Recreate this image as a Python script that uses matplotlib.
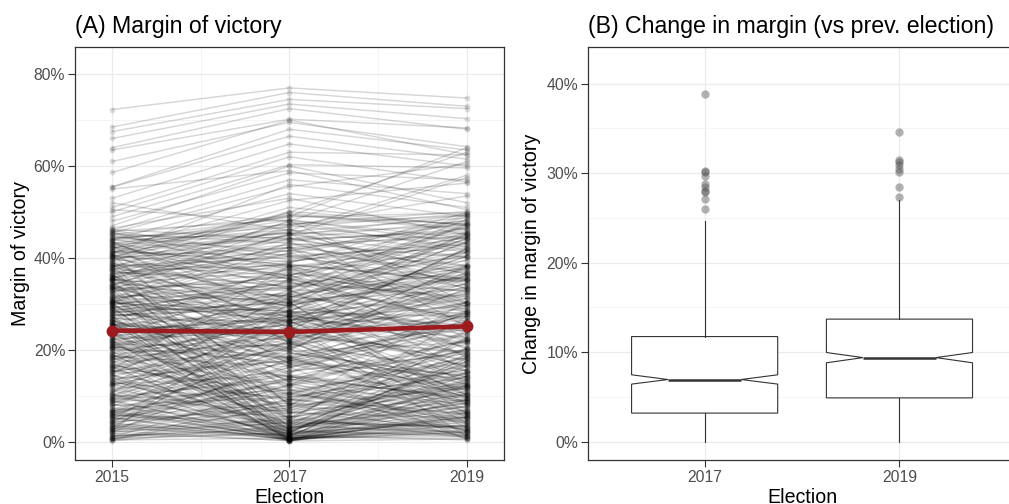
import numpy as np
import matplotlib
matplotlib.use("Agg")
import matplotlib.pyplot as plt
from matplotlib.ticker import FixedLocator, FuncFormatter

plt.rcParams['font.family'] = ['Liberation Sans', 'DejaVu Sans']

# ---------------- data ----------------
years = [2015, 2017, 2019]

# per-constituency margins (%) in 2015, 2017, 2019
m2015 = [
    72.3, 68.5, 67.5, 66.0, 64.0, 63.5, 61.0, 58.6, 55.5, 55.4, 53.0, 51.0, 50.0, 49.0, 48.0,
    47.0, 46.0, 45.5, 44.0, 42.0, 40.0, 50.5, 52.0, 38.0, 36.0, 43.0, 55.0, 46.5, 34.0, 41.0,
    5.2, 12.1, 18.4, 25.3, 9.1, 15.6, 22.0, 30.2, 7.3, 14.5,
    20.3, 28.4, 11.2, 35.1, 17.3, 24.4, 3.2, 13.3, 26.1, 19.5,
    8.2, 32.3, 16.4, 21.6, 10.4, 27.2, 6.1, 23.7, 31.5, 14.0,
    1.0, 2.1, 0.5, 4.3, 6.2, 3.1, 1.6, 8.4, 2.5, 5.1,
    0.8, 3.6, 1.2, 7.0, 0.3, 4.8, 2.8, 9.6, 0.6, 6.7,
    30.1, 38.2, 42.3, 25.4, 33.3, 36.6, 40.5, 28.1, 22.3, 44.2,
    19.2, 34.5, 27.6, 41.3, 37.2, 31.4, 45.1, 24.3, 29.5, 39.3,
    40.2, 35.3, 43.1, 29.3, 38.4, 32.2, 45.5, 26.4, 41.6, 36.1,
    28.3, 33.2, 20.4, 25.1, 15.2, 30.5, 18.3, 35.4, 12.5, 22.6,
    44.1, 39.2, 46.0, 35.5, 42.4, 30.6, 37.3, 25.2, 43.5, 33.4,
    10.3, 15.1, 5.4, 20.2, 8.6, 12.4, 18.5, 3.3, 22.5, 14.2,
    2.2, 4.4, 6.3, 1.4, 8.1, 3.5, 10.2, 5.5, 7.4, 0.9,
    12.3, 16.2, 9.5, 14.4, 18.1, 11.5, 20.6, 13.6, 17.4, 15.5,
    22.1, 26.3, 24.2, 28.5, 21.4, 30.3, 27.1, 23.5, 32.4, 29.2,
    40.1, 41.5, 43.3, 44.6, 45.3, 42.1, 46.2, 40.6, 43.8, 45.8,
    38.3, 33.1, 29.4, 36.5, 27.3, 24.1, 31.2, 34.6, 19.1, 26.6,
    15.3, 22.2, 18.6, 28.2, 12.6, 25.5, 9.3, 20.1, 30.4, 16.5,
    30.2, 25.3, 35.2, 20.4, 28.6, 33.5, 22.4, 38.5, 18.2, 27.4,
    35.6, 38.1, 32.5, 40.3, 37.4, 30.3, 42.5, 34.2, 39.4, 36.3,
    11.1, 6.5, 23.3, 17.6, 13.2, 21.3, 9.2, 4.6, 26.5, 31.6,
    0.4, 1.8, 2.9, 4.1, 0.2, 3.8, 6.9, 1.1, 5.8, 2.4,
    19.8, 24.8, 29.8, 34.8, 39.8, 14.8, 9.8, 44.8, 17.8, 12.8,
    15.9, 10.9, 30.9, 26.9, 40.9, 20.9, 35.9, 25.9, 5.9, 43.9,
    33.7, 37.7, 29.7, 27.7, 31.7, 35.7, 24.7, 21.7, 16.7, 13.7,
    8.5, 13.5, 18.7, 23.4, 27.9, 32.6, 37.1, 41.8, 4.2, 6.8,
    11.4, 16.9, 21.1, 25.7, 29.6, 34.1, 38.9, 43.2, 45.7, 19.6,
    2.7, 5.6, 9.9, 14.9, 7.7, 12.9, 17.1, 3.9, 10.6, 15.8,
    24.9, 30.7, 36.2, 40.8, 33.9, 28.8, 22.7, 38.6, 42.7, 35.8,
    26.2, 31.1, 35.2, 20.8, 16.3, 39.6, 29.1, 24.6, 33.6, 19.4,
    44.9, 41.2, 38.7, 36.8, 34.3, 31.9, 28.9, 26.8, 23.9, 21.2,
    1.3, 2.6, 3.4, 4.9, 0.7, 5.9, 7.9, 9.4, 1.9, 6.4,
    17.9, 20.7, 23.1, 25.9, 28.1, 30.8, 33.1, 35.4, 37.9, 40.4,
    43.6, 39.1, 34.4, 29.9, 25.6, 21.9, 18.9, 14.6, 10.1, 6.6,
    12.2, 16.6, 21.5, 26.4, 31.3, 36.4, 41.1, 8.9, 4.5, 2.3,
    44.3, 42.9, 41.9, 39.9, 37.6, 35.1, 32.9, 30.6, 27.4, 23.8,
    5.3, 8.8, 12.7, 16.1, 20.9, 25.8, 29.2, 33.7, 37.4, 40.7,
]
m2017 = [
    77.0, 76.0, 74.5, 73.5, 72.5, 70.2, 69.5, 70.0, 68.0, 66.5, 64.8, 63.0, 62.0, 60.3, 58.5,
    60.0, 57.0, 55.5, 54.0, 52.5, 51.0, 48.0, 46.0, 50.0, 45.0, 49.0, 59.0, 53.0, 47.0, 56.0,
    0.4, 1.0, 0.8, 1.6, 0.3, 2.1, 0.5, 3.0, 1.2, 0.4,
    1.1, 2.6, 0.2, 4.2, 0.7, 1.8, 0.6, 2.2, 0.9, 3.5,
    0.1, 1.1, 0.4, 2.8, 1.6, 0.3, 0.9, 1.3, 5.1, 0.2,
    12.4, 18.2, 9.3, 22.1, 15.3, 25.2, 7.4, 20.1, 30.3, 11.5,
    5.2, 14.1, 3.0, 17.6, 8.1, 27.3, 10.6, 24.4, 2.0, 13.2,
    32.3, 40.1, 44.2, 28.3, 35.1, 39.4, 43.6, 30.2, 24.1, 47.3,
    21.3, 37.2, 29.1, 45.5, 38.4, 34.3, 49.2, 26.5, 27.4, 42.2,
    30.1, 22.4, 33.2, 18.5, 26.3, 20.1, 35.3, 15.2, 28.4, 24.3,
    35.2, 45.4, 30.3, 38.1, 28.4, 42.3, 33.2, 48.1, 25.3, 36.4,
    38.2, 31.1, 40.3, 27.2, 36.1, 22.5, 29.4, 18.3, 35.4, 25.1,
    18.4, 22.3, 12.2, 28.5, 16.1, 20.6, 26.2, 9.1, 31.3, 23.4,
    4.1, 6.3, 3.2, 2.5, 5.4, 1.3, 7.1, 8.4, 4.2, 1.6,
    8.2, 10.4, 14.3, 9.2, 12.5, 15.4, 14.2, 6.1, 19.3, 11.1,
    18.2, 20.4, 27.1, 23.3, 25.5, 26.2, 21.3, 28.4, 28.1, 33.4,
    42.3, 39.2, 46.1, 41.4, 43.2, 47.4, 44.1, 36.3, 45.5, 48.3,
    6.2, 2.4, 0.6, 8.1, 4.3, 0.2, 3.4, 5.3, 0.9, 2.3,
    20.2, 25.4, 16.3, 30.4, 14.4, 22.1, 11.2, 18.4, 26.3, 12.3,
    28.4, 24.2, 33.3, 22.5, 32.1, 30.2, 26.3, 36.1, 21.4, 29.3,
    44.2, 47.2, 43.1, 49.4, 46.3, 41.2, 48.2, 45.1, 50.1, 42.3,
    26.2, 19.3, 10.2, 5.3, 3.2, 7.2, 21.5, 16.2, 12.4, 16.3,
    0.8, 0.3, 1.4, 0.6, 3.6, 2.6, 0.5, 5.6, 2.9, 0.2,
    24.6, 19.6, 34.6, 29.6, 34.6, 17.6, 13.6, 39.6, 27.6, 9.6,
    24.9, 20.9, 38.9, 34.9, 44.9, 30.9, 40.9, 19.9, 14.9, 48.9,
    31.7, 33.7, 36.7, 25.7, 27.7, 38.7, 32.7, 16.7, 8.7, 17.7,
    12.3, 18.6, 14.2, 17.8, 24.1, 36.9, 33.8, 38.5, 7.9, 10.7,
    4.6, 7.5, 9.8, 13.4, 17.2, 21.6, 25.8, 30.7, 37.4, 6.3,
    13.8, 20.7, 27.6, 31.4, 23.6, 29.7, 35.4, 16.8, 32.5, 38.2,
    10.5, 14.6, 19.4, 24.7, 12.8, 8.4, 5.1, 16.9, 21.5, 11.3,
    31.5, 36.2, 41.7, 27.9, 24.2, 45.8, 33.9, 29.8, 39.1, 25.7,
    44.4, 40.7, 37.3, 35.6, 32.9, 30.8, 28.6, 26.1, 23.2, 20.8,
    1.9, 4.8, 2.2, 6.9, 4.4, 3.9, 9.7, 6.6, 8.9, 11.9,
    22.9, 17.1, 26.8, 22.6, 31.9, 27.3, 29.7, 31.6, 41.6, 38.1,
    27.8, 21.7, 17.8, 13.1, 9.1, 6.7, 3.8, 2.9, 1.7, 0.7,
    21.8, 26.7, 32.2, 37.7, 43.4, 47.9, 49.7, 17.4, 13.6, 10.3,
    46.7, 45.3, 43.9, 42.8, 40.4, 38.1, 35.8, 33.6, 30.6, 27.2,
    0.4, 0.9, 0.6, 1.5, 0.7, 2.1, 1.9, 3.2, 4.6, 7.8,
]
m2019 = [
    74.8, 73.0, 72.5, 70.3, 68.0, 68.3, 64.2, 62.5, 63.5, 61.5, 60.0, 62.4, 56.5, 59.6, 57.0,
    52.0, 54.0, 60.5, 49.0, 56.3, 47.0, 61.0, 58.0, 63.0, 57.5, 64.0, 50.5, 45.0, 53.5, 51.0,
    7.8, 6.3, 10.5, 12.2, 4.4, 15.0, 3.1, 9.4, 11.1, 2.2,
    18.2, 14.3, 7.0, 16.4, 5.1, 20.3, 9.2, 1.5, 13.4, 22.1,
    6.2, 19.0, 10.2, 8.3, 3.5, 11.8, 0.8, 17.5, 24.0, 4.9,
    8.1, 25.3, 4.2, 30.4, 20.1, 28.3, 14.2, 12.5, 35.2, 2.3,
    12.0, 9.5, 6.8, 26.2, 1.2, 22.4, 18.3, 31.1, 4.1, 7.3,
    35.4, 43.3, 48.1, 27.2, 31.2, 42.5, 46.3, 33.3, 26.4, 49.2,
    24.4, 40.1, 25.3, 44.1, 35.5, 38.3, 47.4, 29.6, 32.1, 45.4,
    45.3, 38.2, 47.5, 33.4, 41.2, 36.3, 49.1, 28.5, 43.6, 42.1,
    15.4, 25.1, 8.2, 18.3, 10.1, 22.4, 12.5, 30.3, 5.2, 20.1,
    30.3, 20.4, 35.1, 15.3, 28.4, 10.2, 24.1, 6.4, 26.2, 12.3,
    28.2, 35.4, 22.1, 40.3, 25.2, 33.1, 38.4, 18.5, 44.2, 30.3,
    3.3, 5.2, 8.4, 1.1, 10.3, 2.4, 12.2, 6.1, 3.2, 5.3,
    15.1, 20.2, 11.2, 6.3, 22.3, 19.1, 9.4, 12.4, 14.2, 17.3,
    25.4, 30.2, 21.3, 19.2, 32.1, 34.4, 15.5, 25.2, 23.4, 28.3,
    38.2, 44.4, 41.3, 48.3, 40.1, 50.1, 45.5, 42.2, 36.4, 43.2,
    18.4, 12.3, 5.5, 20.3, 14.2, 9.1, 2.1, 22.4, 1.3, 16.5,
    3.1, 1.2, 0.5, 6.1, 2.3, 4.2, 0.8, 7.2, 10.4, 1.5,
    45.2, 42.1, 48.4, 38.2, 47.3, 44.3, 40.5, 49.5, 34.6, 43.4,
    38.3, 42.4, 35.2, 46.1, 33.2, 29.4, 44.3, 40.2, 47.2, 30.1,
    16.3, 13.2, 19.4, 13.1, 17.3, 24.3, 9.6, 23.2, 28.2, 26.3,
    2.6, 3.6, 0.4, 1.9, 7.6, 10.6, 5.6, 0.9, 13.6, 0.6,
    16.6, 21.6, 26.6, 37.6, 31.6, 24.6, 8.6, 46.6, 21.6, 16.6,
    41.9, 36.9, 49.9, 46.9, 49.4, 44.9, 47.9, 37.9, 27.9, 49.8,
    27.7, 37.7, 32.7, 36.7, 20.7, 34.7, 35.7, 27.7, 14.7, 11.7,
    17.4, 9.8, 21.9, 13.6, 31.8, 29.5, 40.6, 34.9, 11.6, 4.5,
    8.9, 12.7, 15.6, 19.8, 23.5, 27.1, 32.4, 38.1, 44.6, 10.9,
    19.7, 27.4, 36.2, 41.3, 17.9, 24.6, 32.8, 8.7, 45.7, 28.9,
    5.8, 8.9, 14.1, 17.6, 3.9, 2.7, 1.8, 11.4, 9.7, 6.6,
    38.7, 43.9, 47.6, 33.6, 29.1, 48.7, 41.5, 36.1, 45.2, 31.2,
    37.2, 33.5, 28.7, 25.6, 21.8, 18.7, 16.2, 13.3, 11.1, 8.1,
    4.6, 2.9, 6.4, 9.1, 3.4, 1.4, 13.9, 2.6, 15.7, 6.9,
    19.6, 14.6, 22.7, 27.9, 37.1, 24.8, 35.8, 27.2, 36.8, 43.1,
    39.6, 33.9, 29.7, 26.1, 21.4, 18.9, 15.1, 11.9, 8.6, 5.9,
    14.8, 19.3, 23.8, 29.9, 34.1, 41.7, 46.4, 12.1, 9.9, 5.1,
    49.6, 47.1, 45.9, 44.7, 42.9, 41.1, 39.4, 36.4, 34.2, 32.6,
    3.8, 2.1, 5.3, 7.9, 12.9, 18.1, 22.8, 16.9, 27.3, 30.6,
]

# average margin per election (red line)
mean_margin = [24.2, 23.9, 25.1]

# panel B: change in margin vs previous election (box statistics, %)
change_labels = ['2017', '2019']
change_q1 = [3.2, 4.9]
change_med = [6.95, 9.4]
change_q3 = [11.75, 13.7]
change_notch_lo = [6.44, 8.82]
change_notch_hi = [7.48, 9.97]
change_whislo = [0.0, 0.0]
change_whishi = [24.7, 27.0]
change_outliers_2017 = [38.9, 30.3, 30.1, 29.7, 28.8, 28.5, 28.05, 27.9, 27.1, 26.0]
change_outliers_2019 = [34.6, 31.5, 31.2, 30.9, 30.5, 30.15, 28.5, 27.35]

# ---------------- figure ----------------
fig = plt.figure(figsize=(10.09, 5.04), dpi=100)
axA = fig.add_axes([0.0743, 0.0873, 0.4252, 0.8194])
axB = fig.add_axes([0.5825, 0.0873, 0.4248, 0.8194])

BORDER = '#333333'
TICKC = '#4D4D4D'
TS, LS, TTS = 11.3, 14.1, 16.7

def style(ax):
    ax.set_facecolor('white')
    for s in ax.spines.values():
        s.set_color(BORDER)
        s.set_linewidth(0.9)
    ax.tick_params(axis='both', which='major', length=5, width=0.8, color=BORDER,
                   labelsize=TS, labelcolor=TICKC, pad=2)
    ax.tick_params(axis='both', which='minor', length=0)
    ax.grid(True, which='major', color='#EBEBEB', linewidth=0.9, zorder=0)
    ax.grid(True, which='minor', color='#F2F2F2', linewidth=0.5, zorder=0)
    ax.set_axisbelow(True)

pct = FuncFormatter(lambda v, p: f"{v:.0f}%")

# Panel A
style(axA)
arrA = np.array([m2015, m2017, m2019])
axA.plot(years, arrA, color='black', alpha=0.16, linewidth=1.05, zorder=2)
axA.plot(years, arrA, linestyle='none', marker='o', markersize=4.2,
         markerfacecolor='black', markeredgewidth=0, alpha=0.12, zorder=2)
axA.plot(years, mean_margin, color='#9B1B1F', linewidth=3.3, marker='o',
         markersize=7.5, zorder=5, solid_capstyle='round')
axA.set_xlim(2014.58, 2019.42)
axA.set_ylim(-3.97, 85.9)
axA.xaxis.set_major_locator(FixedLocator(years))
axA.xaxis.set_minor_locator(FixedLocator([2016, 2018]))
axA.yaxis.set_major_locator(FixedLocator([0, 20, 40, 60, 80]))
axA.yaxis.set_minor_locator(FixedLocator([10, 30, 50, 70]))
axA.yaxis.set_major_formatter(pct)
axA.set_xlabel('Election', fontsize=LS, labelpad=2)
axA.set_ylabel('Margin of victory', fontsize=LS, labelpad=2.5)
axA.set_title('(A) Margin of victory', loc='left', fontsize=TTS, pad=10)

# Panel B
style(axB)
outs = [change_outliers_2017, change_outliers_2019]
stats = []
for i in range(len(change_labels)):
    stats.append(dict(med=change_med[i], q1=change_q1[i], q3=change_q3[i],
                      whislo=change_whislo[i], whishi=change_whishi[i],
                      cilo=change_notch_lo[i], cihi=change_notch_hi[i],
                      fliers=np.array(outs[i]), label=change_labels[i]))
axB.bxp(stats, positions=[0, 1], widths=0.75, shownotches=True, showcaps=False,
        patch_artist=True,
        boxprops=dict(facecolor='white', edgecolor=BORDER, linewidth=0.8),
        medianprops=dict(color=BORDER, linewidth=1.8),
        whiskerprops=dict(color=BORDER, linewidth=0.8),
        flierprops=dict(marker='o', markersize=6, markerfacecolor='#555555',
                        markeredgewidth=0, alpha=0.45))
axB.set_xlim(-0.6, 1.6)
axB.set_ylim(-2.04, 44.1)
axB.xaxis.set_major_locator(FixedLocator([0, 1]))
axB.set_xticklabels(change_labels)
axB.yaxis.set_major_locator(FixedLocator([0, 10, 20, 30, 40]))
axB.yaxis.set_minor_locator(FixedLocator([5, 15, 25, 35]))
axB.yaxis.set_major_formatter(pct)
axB.set_xlabel('Election', fontsize=LS, labelpad=2)
axB.set_ylabel('Change in margin of victory', fontsize=LS, labelpad=4)
axB.set_title('(B) Change in margin (vs prev. election)', loc='left', fontsize=TTS, pad=10)

fig.savefig('out.png', dpi=100)
